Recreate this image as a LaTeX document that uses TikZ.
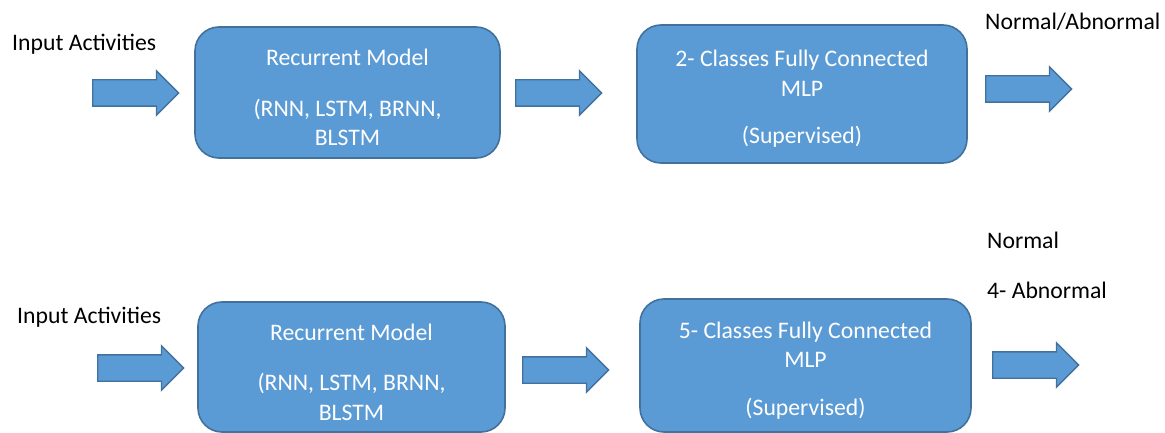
\documentclass[tikz,border=0pt]{standalone}
\usepackage{fontspec}
\setmainfont{Carlito}
\usepackage{tikz}
\usetikzlibrary{shapes,shapes.arrows,positioning}
\definecolor{mdblue}{RGB}{91,155,213}
\definecolor{mdborder}{RGB}{65,113,156}
\tikzstyle{model} = [rectangle, rounded corners=24pt, draw=mdborder, fill=mdblue, line width=1.6pt, text=white, align=center, inner sep=0pt, font=\fontsize{23.7}{29.5}\selectfont]
\tikzstyle{blockarrow} = [single arrow, anchor=tail, draw=mdborder, fill=mdblue, line width=1.4pt, minimum height=86pt, inner xsep=0pt, inner ysep=12.5pt, single arrow head extend=9pt, single arrow head indent=0pt]
\tikzstyle{caption} = [anchor=west, inner sep=0pt, font=\fontsize{23.7}{29.5}\selectfont]

\begin{document}
\begin{tikzpicture}[x=1pt, y=-1pt]
    \useasboundingbox (0,0) rectangle (1165,433);

    % Top row
    \node[caption] (in1) at (12,44) {Input Activities};
    \node[blockarrow] (a1) at (92,93) {};
    \node[model, minimum width=305pt, minimum height=131pt] (rec1) at (347.5,92.5) {\rule{0pt}{27pt}Recurrent Model\\[21pt](RNN, LSTM, BRNN,\\BLSTM};
    \node[blockarrow] (a2) at (515,93) {};
    \node[model, minimum width=330pt, minimum height=138pt] (mlp1) at (802,94) {\rule{0pt}{26pt}2- Classes Fully Connected\\MLP\\[18pt](Supervised)};
    \node[blockarrow] (a3) at (985,89) {};
    \node[caption] (out1) at (985,22) {Normal/Abnormal};

    % Bottom row
    \node[caption] (in2) at (17,317) {Input Activities};
    \node[blockarrow] (b1) at (97,368) {};
    \node[model, minimum width=307pt, minimum height=130pt] (rec2) at (351.5,367) {\rule{0pt}{27pt}Recurrent Model\\[21pt](RNN, LSTM, BRNN,\\BLSTM};
    \node[blockarrow] (b2) at (522,370) {};
    \node[model, minimum width=331pt, minimum height=133pt] (mlp2) at (805.5,365.5) {\rule{0pt}{26pt}5- Classes Fully Connected\\MLP\\[18pt](Supervised)};
    \node[blockarrow] (b3) at (992,365) {};
    \node[caption] (out2) at (987,240) {Normal};
    \node[caption] (out3) at (987,290) {4- Abnormal};
\end{tikzpicture}
\end{document}
